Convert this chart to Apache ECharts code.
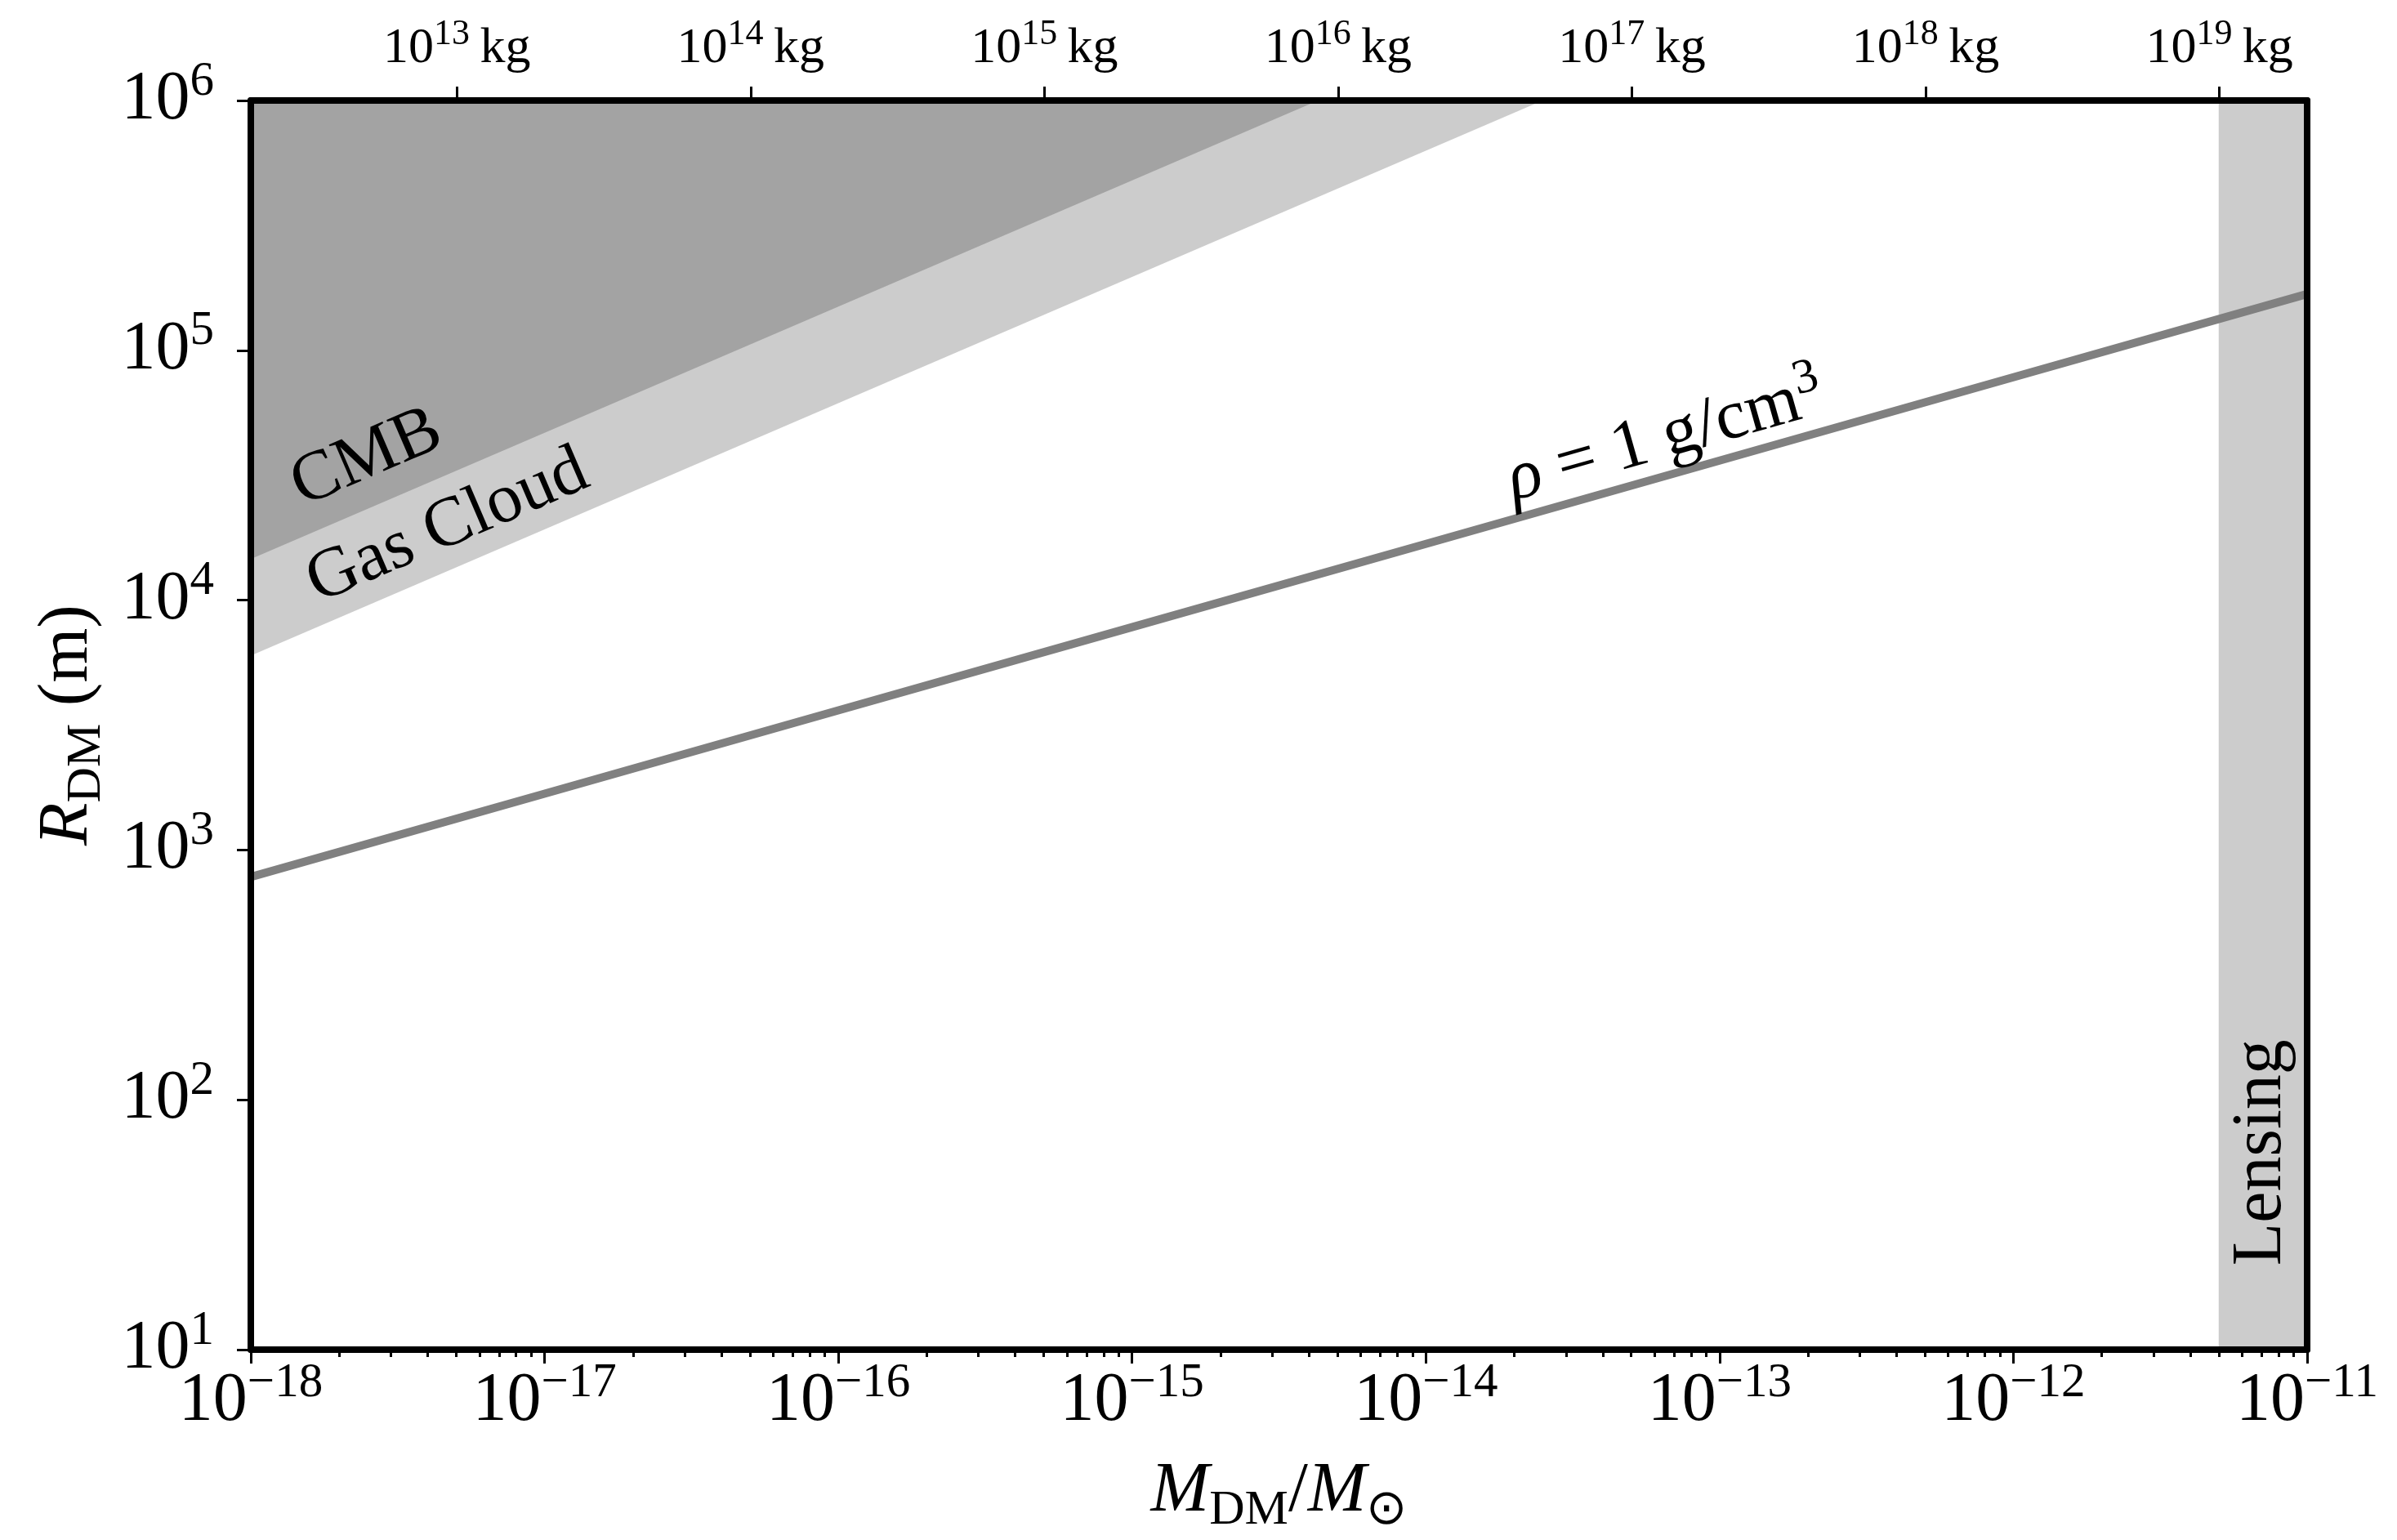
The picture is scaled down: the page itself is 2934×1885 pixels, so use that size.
<!DOCTYPE html>
<html><head><meta charset="utf-8">
<script src="https://cdn.jsdelivr.net/npm/echarts@6/dist/echarts.min.js"></script>
<style>html,body{margin:0;padding:0;background:#fff}#c{width:2934px;height:1885px}</style>
</head><body><div id="c"></div>
<script>
// ---- data ----
const MSUN_KG = 1.989e30;
const xTickExponents = [-18, -17, -16, -15, -14, -13, -12, -11];
const yTickExponents = [1, 2, 3, 4, 5, 6];
const kgTickExponents = [13, 14, 15, 16, 17, 18, 19];
const minorMultipliers = [2, 3, 4, 5, 6, 7, 8, 9];

const rhoMass   = [1e-18, 1e-17, 1e-16, 1e-15, 1e-14, 1e-13, 1e-12, 1e-11];
const rhoRadius = [780, 1680, 3620, 7800, 16800, 36200, 78000, 168000];
const cmbMass   = [1e-18, 4.3e-15];
const cmbRadius = [1.46e4, 1e6];
const gasMass   = [1e-18, 2.5e-14];
const gasRadius = [6.0e3, 1e6];
const lensMass  = [5e-12, 1e-11];

const labelTexts  = ['{r|CMB}', '{r|Gas Cloud}', '{i|ρ}{r| = 1 g/cm}{s|3}', '{r|Lensing}'];
const labelMass   = [2.48e-18, 4.68e-18, 6.55e-14, 7.0e-12];
const labelRadius = [3.69e4, 1.96e4, 4.45e4, 61.5];

// ---- derived ----
const FONT = 'Liberation Serif';
const xMin = Math.pow(10, xTickExponents[0]);
const xMax = Math.pow(10, xTickExponents[xTickExponents.length - 1]);
const yMin = Math.pow(10, yTickExponents[0]);
const yMax = Math.pow(10, yTickExponents[yTickExponents.length - 1]);
const lxMin = xTickExponents[0], lxMax = xTickExponents[xTickExponents.length - 1];

const minorLogs = [];
for (let e = lxMin; e < lxMax; e++) minorMultipliers.forEach(m => minorLogs.push(Math.log10(m) + e));
const kgLogs = kgTickExponents.map(e => e - Math.log10(MSUN_KG));

const tickRich = {
  b: { fontFamily: FONT, fontSize: 84, lineHeight: 84, color: '#000' },
  s: { fontFamily: FONT, fontSize: 59, lineHeight: 59, color: '#000', padding: [0, 0, 46, 0] }
};
const kgRich = {
  b: { fontFamily: FONT, fontSize: 62, lineHeight: 62, color: '#000' },
  s: { fontFamily: FONT, fontSize: 44, lineHeight: 44, color: '#000', padding: [0, 0, 36, 0] }
};
const nameRich = {
  i: { fontFamily: FONT, fontSize: 86, lineHeight: 86, fontStyle: 'italic', color: '#000' },
  r: { fontFamily: FONT, fontSize: 86, lineHeight: 86, color: '#000' },
  sub: { fontFamily: FONT, fontSize: 60, lineHeight: 60, color: '#000', padding: [46, 0, 0, 0] }
};
const annRich = {
  i: { fontFamily: FONT, fontSize: 86, lineHeight: 86, fontStyle: 'italic', color: '#000' },
  r: { fontFamily: FONT, fontSize: 86, lineHeight: 86, color: '#000' },
  s: { fontFamily: FONT, fontSize: 60, lineHeight: 60, color: '#000', padding: [0, 0, 46, 0] }
};

function powLabel(e) { return '{b|10}{s|' + (e < 0 ? '\u2212' + (-e) : e) + '}'; }

const frameLine = { show: true, lineStyle: { color: '#000', width: 8 } };
const majorTick = { show: true, inside: false, length: 17, lineStyle: { color: '#000', width: 3 } };

function aboveRegion(name, mass, radius) {
  return {
    type: 'custom', name, xAxisIndex: 0, yAxisIndex: 0, silent: true,
    data: [[mass[0], radius[0], mass[1], radius[1]]],
    encode: { x: [0, 2], y: [1, 3] },
    renderItem(params, api) {
      const p1 = api.coord([api.value(0), api.value(1)]);
      const p2 = api.coord([api.value(2), api.value(3)]);
      const t1 = api.coord([api.value(0), yMax]);
      const t2 = api.coord([api.value(2), yMax]);
      return { type: 'polygon', shape: { points: [p1, p2, t2, t1] }, style: { fill: 'rgba(0,0,0,0.2)' } };
    }
  };
}

const chart = echarts.init(document.getElementById('c'), null, { renderer: 'canvas' });
const option = {
  backgroundColor: '#fff',
  animation: false,
  grid: { left: 307, right: 110, top: 123, bottom: 233, containLabel: false, outerBoundsMode: 'none' },
  xAxis: [
    {
      type: 'log', min: xMin, max: xMax, position: 'bottom', z: 10,
      axisLine: frameLine, axisTick: majorTick, splitLine: { show: false },
      axisLabel: {
        margin: 22, rich: tickRich,
        formatter: v => powLabel(Math.round(Math.log10(v)))
      },
      name: '{i|M}{sub|DM}{r|/}{i|M}{sub|\u2299}', nameLocation: 'middle', nameGap: 127,
      nameTextStyle: { rich: nameRich }
    },
    {
      type: 'value', min: lxMin, max: lxMax, position: 'bottom', z: 10,
      axisLine: { show: false }, splitLine: { show: false },
      axisTick: { show: true, inside: false, length: 9, customValues: minorLogs, lineStyle: { color: '#000', width: 3 } },
      axisLabel: { show: false }
    },
    {
      type: 'value', min: lxMin, max: lxMax, position: 'top', z: 10,
      axisLine: frameLine, splitLine: { show: false },
      axisTick: Object.assign({}, majorTick, { customValues: kgLogs }),
      axisLabel: {
        margin: 32, rich: kgRich, customValues: kgLogs,
        formatter: v => {
          const e = Math.round(v + Math.log10(MSUN_KG));
          return '{b|10}{s|' + e + '}{b|\u2009kg}';
        }
      }
    }
  ],
  yAxis: [
    {
      type: 'log', min: yMin, max: yMax, position: 'left', z: 10,
      axisLine: frameLine, axisTick: majorTick, splitLine: { show: false },
      axisLabel: { margin: 45, rich: tickRich, formatter: v => powLabel(Math.round(Math.log10(v))) },
      name: '{i|R}{sub|DM}{r| (m)}', nameLocation: 'middle', nameGap: 181,
      nameTextStyle: { rich: nameRich }
    },
    {
      type: 'log', min: yMin, max: yMax, position: 'right', z: 10,
      axisLine: frameLine, axisTick: { show: false }, axisLabel: { show: false }, splitLine: { show: false }
    }
  ],
  series: [
    aboveRegion('CMB', cmbMass, cmbRadius),
    aboveRegion('Gas Cloud', gasMass, gasRadius),
    {
      type: 'line', name: 'rho', xAxisIndex: 0, yAxisIndex: 0, silent: true,
      data: rhoMass.map((m, i) => [m, rhoRadius[i]]),
      showSymbol: false, symbol: 'none', clip: true,
      lineStyle: { color: '#808080', width: 10, cap: 'butt' }
    },
    {
      type: 'custom', name: 'Lensing', xAxisIndex: 0, yAxisIndex: 0, silent: true,
      data: [[lensMass[0], yMin, lensMass[1], yMax]],
      encode: { x: [0, 2], y: [1, 3] },
      renderItem(params, api) {
        const a = api.coord([api.value(0), api.value(1)]);
        const b = api.coord([api.value(2), api.value(3)]);
        return { type: 'rect', shape: { x: a[0], y: b[1], width: b[0] - a[0], height: a[1] - b[1] }, style: { fill: 'rgba(0,0,0,0.2)' } };
      }
    }
  ]
};
chart.setOption(option);

// annotations positioned in data coordinates
const toPx = (m, r) => chart.convertToPixel({ seriesIndex: 2 }, [m, r]);
function slopeAngle(m1, r1, m2, r2) {
  const a = toPx(m1, r1), b = toPx(m2, r2);
  return Math.atan2(a[1] - b[1], b[0] - a[0]);
}
const angles = [
  slopeAngle(cmbMass[0], cmbRadius[0], cmbMass[1], cmbRadius[1]),
  slopeAngle(gasMass[0], gasRadius[0], gasMass[1], gasRadius[1]),
  slopeAngle(rhoMass[0], rhoRadius[0], rhoMass[rhoMass.length - 1], rhoRadius[rhoRadius.length - 1]),
  Math.PI / 2
];
chart.setOption({
  graphic: labelTexts.map((t, i) => {
    const p = toPx(labelMass[i], labelRadius[i]);
    return {
      type: 'text', x: p[0], y: p[1], rotation: angles[i], z: 20, silent: true,
      style: { text: t, rich: annRich, align: 'center', verticalAlign: 'middle', fill: '#000' }
    };
  })
});
</script>
</body></html>
